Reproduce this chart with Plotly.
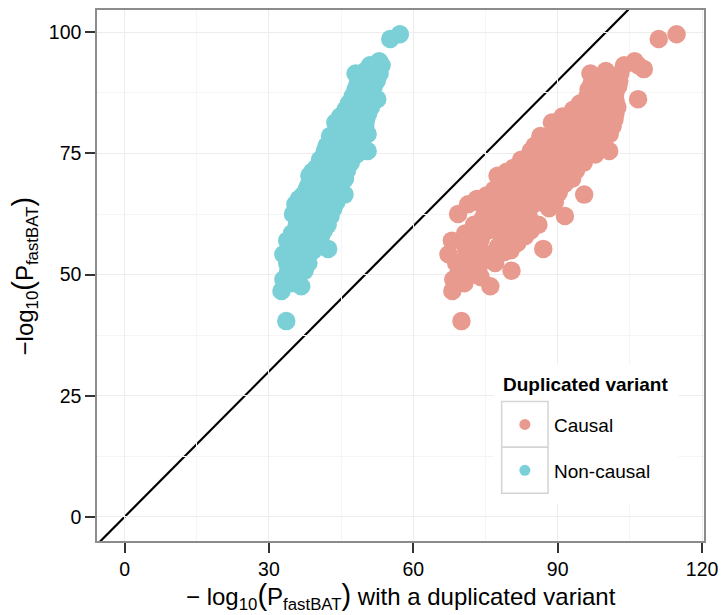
import plotly.graph_objects as go

# -log10(P_fastBAT) (y) for each simulated gene
y_vals = [
    40.4, 46.6, 47.6, 48.2, 49.0, 50.0, 50.8, 50.8, 51.6, 52.4,
    52.4, 53.2, 54.2, 54.2, 55.0, 55.0, 55.3, 55.8, 56.5, 56.5,
    57.0, 57.2, 57.9, 57.9, 58.5, 59.1, 59.1, 59.7, 60.3, 60.3,
    60.9, 60.9, 61.5, 62.1, 62.1, 62.5, 63.1, 63.1, 63.7, 63.7,
    64.5, 64.5, 65.0, 65.0, 66.5, 65.8, 66.3, 66.3, 66.9, 66.9,
    67.5, 67.5, 68.1, 68.1, 68.7, 68.7, 69.2, 69.2, 69.8, 69.8,
    70.4, 70.4, 70.9, 70.9, 71.5, 71.5, 72.0, 72.0, 72.6, 72.6,
    73.1, 73.1, 73.7, 73.7, 74.2, 74.2, 74.8, 74.8, 75.5, 75.5,
    76.0, 76.0, 76.6, 76.6, 77.1, 77.1, 77.7, 77.7, 78.3, 78.3,
    78.6, 79.0, 79.0, 79.6, 79.6, 80.2, 80.2, 80.6, 80.8, 80.8,
    81.4, 81.4, 82.0, 82.0, 82.6, 82.6, 83.2, 83.2, 84.0, 84.0,
    84.6, 84.6, 85.3, 85.3, 86.0, 86.0, 86.2, 86.8, 87.5, 87.5,
    88.2, 88.2, 88.9, 88.9, 89.3, 90.0, 90.0, 90.7, 90.7, 91.5,
    91.5, 92.0, 92.4, 93.2, 93.2, 94.0, 98.6, 99.6,
    58.0, 58.6, 59.4, 61.2, 61.8, 62.8, 63.4, 64.0, 64.8, 65.4,
    65.6, 67.2, 67.8, 68.4, 69.5, 70.2, 71.2, 71.8, 72.3, 73.4,
    74.5, 75.2, 76.3, 77.4, 78.0, 79.3, 80.0, 81.0, 81.7, 82.3,
    83.6, 84.3, 85.0, 86.4, 87.0, 89.6, 53.6, 52.8, 51.2, 56.0,
    54.6, 49.5,
]

# -log10(P_fastBAT) with a duplicated non-causal variant
x_noncausal = [
    33.6, 32.6, 36.7, 34.6, 33.0, 35.8, 34.0, 37.4, 36.0, 33.8,
    38.2, 35.4, 33.0, 37.0, 35.2, 39.2, 42.3, 37.8, 34.6, 39.8,
    33.8, 36.4, 38.4, 40.8, 34.8, 37.2, 41.4, 39.4, 35.8, 42.2,
    38.0, 40.4, 36.6, 39.6, 42.8, 35.0, 37.6, 41.2, 39.0, 43.4,
    35.5, 41.8, 38.2, 44.0, 45.7, 40.4, 37.0, 42.6, 39.2, 44.4,
    41.0, 37.8, 43.2, 39.8, 45.0, 41.6, 38.8, 43.8, 40.6, 45.8,
    42.4, 38.4, 44.2, 40.0, 46.2, 41.8, 39.8, 43.6, 45.4, 41.4,
    47.0, 43.0, 40.6, 44.8, 42.4, 46.6, 48.2, 44.0, 50.5, 41.6,
    45.8, 43.2, 47.6, 42.0, 44.6, 49.0, 46.2, 42.8, 48.0, 44.4,
    42.7, 50.5, 46.0, 44.0, 48.6, 44.3, 47.0, 50.0, 49.4, 45.6,
    43.8, 47.8, 50.2, 46.2, 44.8, 48.6, 47.2, 50.6, 45.9, 49.2,
    48.0, 51.2, 46.6, 50.0, 48.6, 51.8, 52.5, 47.4, 49.6, 51.0,
    48.0, 50.6, 51.8, 49.2, 48.4, 50.4, 52.4, 49.0, 51.4, 48.0,
    53.0, 50.0, 52.2, 51.0, 53.4, 52.9, 55.2, 57.2,
    36.0, 39.0, 40.2, 37.4, 41.0, 38.6, 40.0, 36.8, 42.8, 39.4,
    36.2, 40.0, 42.2, 38.2, 42.8, 44.8, 39.0, 42.6, 44.6, 41.6,
    45.6, 43.4, 44.6, 47.4, 45.2, 47.2, 46.0, 48.6, 45.2, 47.4,
    48.4, 46.8, 49.0, 49.8, 48.8, 50.0, 36.6, 34.6, 35.0, 36.2,
    38.4, 36.0,
]

# -log10(P_fastBAT) with a duplicated causal variant
x_causal = [
    70.0, 68.1, 76.0, 70.6, 68.3, 72.2, 69.5, 80.4, 73.6, 68.9,
    77.0, 72.4, 67.3, 75.8, 71.0, 80.2, 87.0, 77.6, 70.4, 81.6,
    68.0, 74.0, 78.4, 83.2, 70.8, 75.6, 84.4, 80.0, 72.6, 86.0,
    77.2, 82.2, 74.4, 80.6, 91.5, 69.3, 76.4, 83.8, 79.2, 88.2,
    71.4, 85.0, 77.6, 89.4, 95.5, 82.0, 75.2, 86.6, 79.6, 90.2,
    83.2, 76.8, 87.8, 80.8, 91.4, 84.4, 78.8, 89.0, 82.4, 93.0,
    86.0, 77.5, 89.8, 81.2, 93.8, 84.8, 80.8, 88.6, 92.2, 84.0,
    95.4, 87.2, 82.4, 91.0, 86.0, 94.6, 97.8, 89.4, 100.7, 84.4,
    93.0, 87.6, 96.6, 85.2, 90.6, 99.4, 93.8, 86.8, 97.4, 90.2,
    86.4, 100.8, 93.4, 89.4, 98.6, 89.8, 95.4, 101.4, 100.2, 92.6,
    88.8, 97.0, 101.8, 93.8, 91.0, 98.6, 95.8, 102.0, 93.2, 99.8,
    97.4, 102.4, 94.6, 101.4, 98.6, 102.0, 106.7, 96.2, 99.6, 102.0,
    96.4, 101.0, 102.6, 98.6, 97.0, 100.4, 102.8, 98.8, 101.6, 96.8,
    103.0, 100.0, 107.9, 103.8, 106.7, 106.0, 111.0, 114.7,
    73.0, 79.0, 82.0, 76.0, 84.0, 78.0, 81.2, 74.6, 87.2, 80.4,
    73.2, 82.4, 86.0, 78.0, 87.0, 91.2, 79.4, 86.8, 90.6, 84.6,
    92.6, 88.2, 91.0, 96.0, 92.0, 96.2, 93.6, 99.0, 91.8, 96.4,
    98.4, 95.0, 99.8, 101.0, 98.0, 99.4, 74.8, 70.4, 71.6, 73.4,
    78.8, 74.0,
]

series_names = ["Causal", "Non-causal"]
series_colors = ["#E99A8E", "#7AD0D6"]
legend_title = "Duplicated variant"
x_ticks = [0, 30, 60, 90, 120]
y_ticks = [0, 25, 50, 75, 100]
x_range = [-5.73, 120.4]
y_range = [-4.98, 104.6]

FONT = "Liberation Sans, Arial, Helvetica, sans-serif"
W, H = 726, 615
ML, MR, MT, MB = 97, 14, 8, 74
PW, PH = W - ML - MR, H - MT - MB


def px_x(px):
    return (px - ML) / PW


def px_y(py):
    return (H - MB - py) / PH


fig = go.Figure()

fig.add_trace(go.Scatter(
    x=x_causal, y=y_vals, mode="markers", name=series_names[0],
    marker=dict(size=18.5, color=series_colors[0], line=dict(width=0)),
    showlegend=False,
))
fig.add_trace(go.Scatter(
    x=x_noncausal, y=y_vals, mode="markers", name=series_names[1],
    marker=dict(size=18.5, color=series_colors[1], line=dict(width=0)),
    showlegend=False,
))

shapes = []
# y = x reference line (clipped to the panel)
lo = min(x_range[0], y_range[0]) - 5
hi = max(x_range[1], y_range[1]) + 5
shapes.append(dict(type="line", xref="x", yref="y", x0=lo, y0=lo, x1=hi, y1=hi,
                   line=dict(color="black", width=2.2), layer="below"))

# legend background and keys
shapes.append(dict(type="rect", xref="paper", yref="paper",
                   x0=px_x(499), x1=px_x(686), y0=px_y(503), y1=px_y(364),
                   fillcolor="white", line=dict(width=0), layer="above"))
key_tops = [401, 447]
for i, top in enumerate(key_tops):
    shapes.append(dict(type="rect", xref="paper", yref="paper",
                       x0=px_x(507), x1=px_x(554), y0=px_y(top + 46), y1=px_y(top),
                       fillcolor="white", line=dict(color="#D4D4D4", width=1.5),
                       layer="above"))
    cx, cy = 530.5, top + 23
    shapes.append(dict(type="circle", xref="paper", yref="paper",
                       xsizemode="pixel", ysizemode="pixel",
                       xanchor=px_x(cx), yanchor=px_y(cy),
                       x0=-5.5, x1=5.5, y0=-5.5, y1=5.5,
                       fillcolor=series_colors[i], line=dict(width=0), layer="above"))

annotations = [
    dict(text="<b>" + legend_title + "</b>", xref="paper", yref="paper",
         x=px_x(506), y=px_y(384), xanchor="left", yanchor="middle",
         showarrow=False, font=dict(family=FONT, size=19, color="black")),
]
for i, top in enumerate(key_tops):
    annotations.append(dict(text=series_names[i], xref="paper", yref="paper",
                            x=px_x(558), y=px_y(top + 24), xanchor="left", yanchor="middle",
                            showarrow=False, font=dict(family=FONT, size=19, color="black")))

big = '<span style="font-size:29px">'
annotations.append(dict(
    text="− log<sub>10</sub>" + big + "(</span>P<sub>fastBAT</sub>" + big + ")</span> with a duplicated variant",
    xref="paper", yref="paper", x=0.5, y=px_y(597), xanchor="center", yanchor="middle",
    showarrow=False, font=dict(family=FONT, size=24, color="black")))
annotations.append(dict(
    text="−log<sub>10</sub>" + big + "(</span>P<sub>fastBAT</sub>" + big + ")</span>",
    xref="paper", yref="paper", x=px_x(24), y=0.5, xanchor="center", yanchor="middle",
    textangle=-90, showarrow=False, font=dict(family=FONT, size=24, color="black")))

axis_common = dict(
    ticks="outside", ticklen=10, tickwidth=2, tickcolor="#333333",
    showline=True, mirror=True, linecolor="#8C8C8C", linewidth=1.5,
    showgrid=True, gridcolor="#EDEDED", gridwidth=1, zeroline=False,
    tickfont=dict(family=FONT, size=19.5, color="black"),
    ticklabeloverflow="allow",
)

fig.update_layout(
    width=W, height=H,
    margin=dict(l=ML, r=MR, t=MT, b=MB, pad=0),
    paper_bgcolor="white", plot_bgcolor="white",
    showlegend=False,
    shapes=shapes, annotations=annotations,
    xaxis=dict(range=x_range, tickmode="array", tickvals=x_ticks,
               minor=dict(tickvals=[15, 45, 75, 105], showgrid=True,
                          gridcolor="#F5F5F5", ticks=""),
               **axis_common),
    yaxis=dict(range=y_range, tickmode="array", tickvals=y_ticks,
               minor=dict(tickvals=[12.5, 37.5, 62.5, 87.5], showgrid=True,
                          gridcolor="#F5F5F5", ticks=""),
               **axis_common),
)

fig.write_html("out.html")
